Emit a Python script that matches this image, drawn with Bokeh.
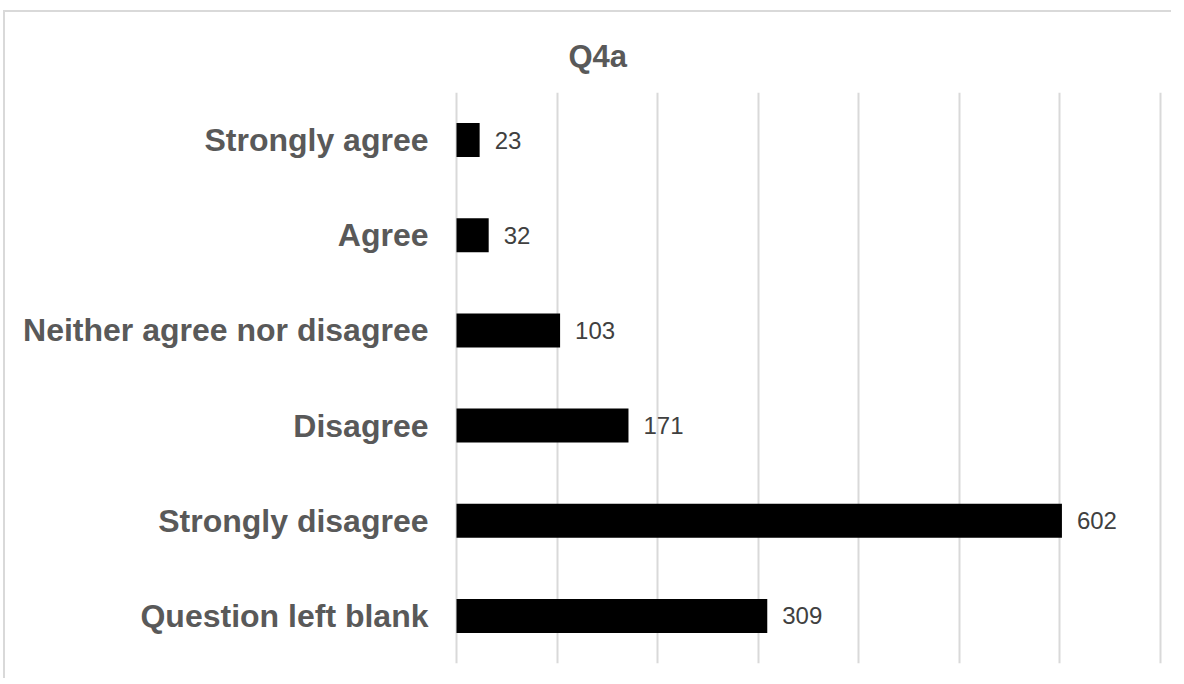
from bokeh.plotting import figure
from bokeh.models import ColumnDataSource, FixedTicker, Range1d, FactorRange, LabelSet
from bokeh.core.properties import value
from bokeh.embed import file_html
from bokeh.resources import INLINE

title_text = "Q4a"
categories = ["Strongly agree", "Agree", "Neither agree nor disagree", "Disagree",
              "Strongly disagree", "Question left blank"]
counts = [23, 32, 103, 171, 602, 309]
x_ticks = [0, 100, 200, 300, 400, 500, 600, 700]

src = ColumnDataSource(dict(cat=categories, val=counts, lab=[str(v) for v in counts]))

p = figure(width=1168, height=668, output_backend="svg", toolbar_location=None,
           y_range=FactorRange(factors=list(reversed(categories)), range_padding=0),
           x_range=Range1d(-2, 702),
           min_border_left=449, min_border_right=11, min_border_top=80, min_border_bottom=17)

p.hbar(y="cat", right="val", left=0, height=0.357, source=src, fill_color="black", line_color=None)

labels = LabelSet(x="val", y="cat", text="lab", source=src, x_offset=15, text_align="left",
                  text_baseline="middle", text_font=value("Liberation Sans"), text_font_size="24px",
                  text_color="#404040")
p.add_layout(labels)

p.xaxis.visible = False
p.xgrid.ticker = FixedTicker(ticks=x_ticks)
p.xgrid.grid_line_color = "#d9d9d9"
p.xgrid.grid_line_width = 2
p.ygrid.grid_line_color = None
p.outline_line_color = None

ya = p.yaxis[0]
ya.axis_line_color = None
ya.major_tick_line_color = None
ya.major_tick_in = 0
ya.major_tick_out = 0
ya.minor_tick_line_color = None
ya.major_label_standoff = 26
ya.major_label_text_font = "Liberation Sans"
ya.major_label_text_font_style = "bold"
ya.major_label_text_font_size = "32px"
ya.major_label_text_color = "#595959"

p.title.text = title_text
p.title.align = "left"
p.title.offset = 114
p.title.text_font = "Liberation Sans"
p.title.text_font_style = "bold"
p.title.text_font_size = "31px"
p.title.text_color = "#595959"
p.title.standoff = 34
p.title.vertical_align = "top"

p.styles = {"border-top": "2px solid #d9d9d9", "border-left": "2px solid #d9d9d9",
            "margin-left": "3px", "margin-top": "10px"}

open("out.html", "w").write(file_html(p, INLINE))
